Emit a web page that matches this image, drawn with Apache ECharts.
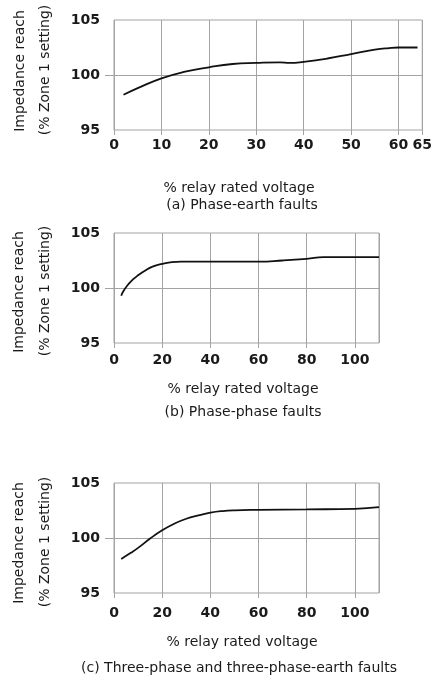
<!DOCTYPE html>
<html>
<head>
<meta charset="utf-8">
<script src="https://cdn.jsdelivr.net/npm/echarts@6/dist/echarts.min.js"></script>
<style>
  html, body { margin: 0; padding: 0; background: #fff; }
  #main { width: 435px; height: 684px; }
</style>
</head>
<body>
<div id="main"></div>
<script>
var myChart = echarts.init(document.getElementById('main'));

// (a) phase-earth faults
const voltageA = [2, 5, 10, 15, 20, 25, 30, 35, 37, 40, 45, 50, 55, 58, 60, 64];
const reachA = [98.2, 98.8, 99.7, 100.3, 100.7, 101.0, 101.1, 101.15, 101.1, 101.2, 101.5, 101.9, 102.3, 102.45, 102.5, 102.5];

// (b) phase-phase faults
const voltageB = [3, 4, 6, 8, 10, 13, 16, 20, 24, 28, 40, 60, 70, 80, 87, 110];
const reachB = [99.3, 99.75, 100.35, 100.8, 101.15, 101.6, 101.95, 102.2, 102.35, 102.4, 102.4, 102.4, 102.5, 102.65, 102.8, 102.8];

// (c) three-phase and three-phase-earth faults
const voltageC = [3, 7, 10, 15, 20, 25, 30, 35, 40, 45, 50, 60, 80, 100, 110];
const reachC = [98.1, 98.65, 99.1, 99.95, 100.7, 101.3, 101.75, 102.05, 102.3, 102.45, 102.52, 102.56, 102.6, 102.65, 102.8];

const yTicks = [95, 100, 105];
const yTitle = ['Impedance reach', '(% Zone 1 setting)'];
const xTitle = '% relay rated voltage';
const captions = [
    '(a) Phase-earth faults',
    '(b) Phase-phase faults',
    '(c) Three-phase and three-phase-earth faults'
];

const gridColor = '#a3a3a3';
const textColor = '#1a1a1a';
const font = '14px "DejaVu Sans"';

function zip(xs, ys) {
    return xs.map(function (x, i) { return [x, ys[i]]; });
}

function xAxisFor(idx, max, interval, margin, showMax) {
    return {
        type: 'value', gridIndex: idx, min: 0, max: max, interval: interval,
        axisLine: {show: false},
        axisTick: {show: true, length: 5, lineStyle: {color: gridColor}},
        splitLine: {show: true, lineStyle: {color: gridColor, width: 1}},
        axisLabel: {
            margin: margin, color: textColor, fontSize: 14, fontWeight: 'bold',
            fontFamily: 'DejaVu Sans', showMaxLabel: showMax
        }
    };
}

function yAxisFor(idx) {
    return {
        type: 'value', gridIndex: idx, min: yTicks[0], max: yTicks[2], interval: 5,
        axisLine: {show: false},
        axisTick: {show: true, length: 9, customValues: [100], lineStyle: {color: gridColor}},
        splitLine: {show: true, lineStyle: {color: gridColor, width: 1}},
        axisLabel: {
            margin: 14, color: textColor, fontSize: 14, fontWeight: 'bold',
            fontFamily: 'DejaVu Sans', customValues: yTicks
        }
    };
}

function lineFor(idx, data) {
    return {
        type: 'line', xAxisIndex: idx, yAxisIndex: idx,
        data: data, smooth: 0.5, showSymbol: false,
        lineStyle: {color: '#111', width: 1.8}
    };
}

function text(str, x, y, rot) {
    return {
        type: 'text', x: x, y: y, rotation: rot || 0, silent: true,
        style: {
            text: str, fill: textColor, font: font,
            textAlign: 'center', align: 'center',
            textVerticalAlign: 'middle', verticalAlign: 'middle'
        }
    };
}

const gridBox = {show: true, borderColor: gridColor, borderWidth: 1};

let option = {
    animation: false,
    backgroundColor: '#fff',
    grid: [
        Object.assign({left: 114, top: 20, width: 312, height: 110}, gridBox),
        Object.assign({left: 114, top: 233, width: 265, height: 110}, gridBox),
        Object.assign({left: 114, top: 483, width: 265, height: 110}, gridBox)
    ],
    xAxis: [
        xAxisFor(0, 65, 10, 8, true),
        xAxisFor(1, 110, 20, 10, false),
        xAxisFor(2, 110, 20, 13, false)
    ],
    yAxis: [yAxisFor(0), yAxisFor(1), yAxisFor(2)],
    series: [
        lineFor(0, zip(voltageA, reachA)),
        lineFor(1, zip(voltageB, reachB)),
        lineFor(2, zip(voltageC, reachC))
    ],
    graphic: [
        text(yTitle[0], 20, 71, Math.PI / 2),
        text(yTitle[1], 45, 70, Math.PI / 2),
        text(xTitle, 239, 188),
        text(captions[0], 242, 205),

        text(yTitle[0], 19, 292, Math.PI / 2),
        text(yTitle[1], 45, 291, Math.PI / 2),
        text(xTitle, 243, 389),
        text(captions[1], 243, 412),

        text(yTitle[0], 19, 543, Math.PI / 2),
        text(yTitle[1], 45, 542, Math.PI / 2),
        text(xTitle, 242, 642),
        text(captions[2], 239, 668)
    ]
};

myChart.setOption(option);
</script>
</body>
</html>
